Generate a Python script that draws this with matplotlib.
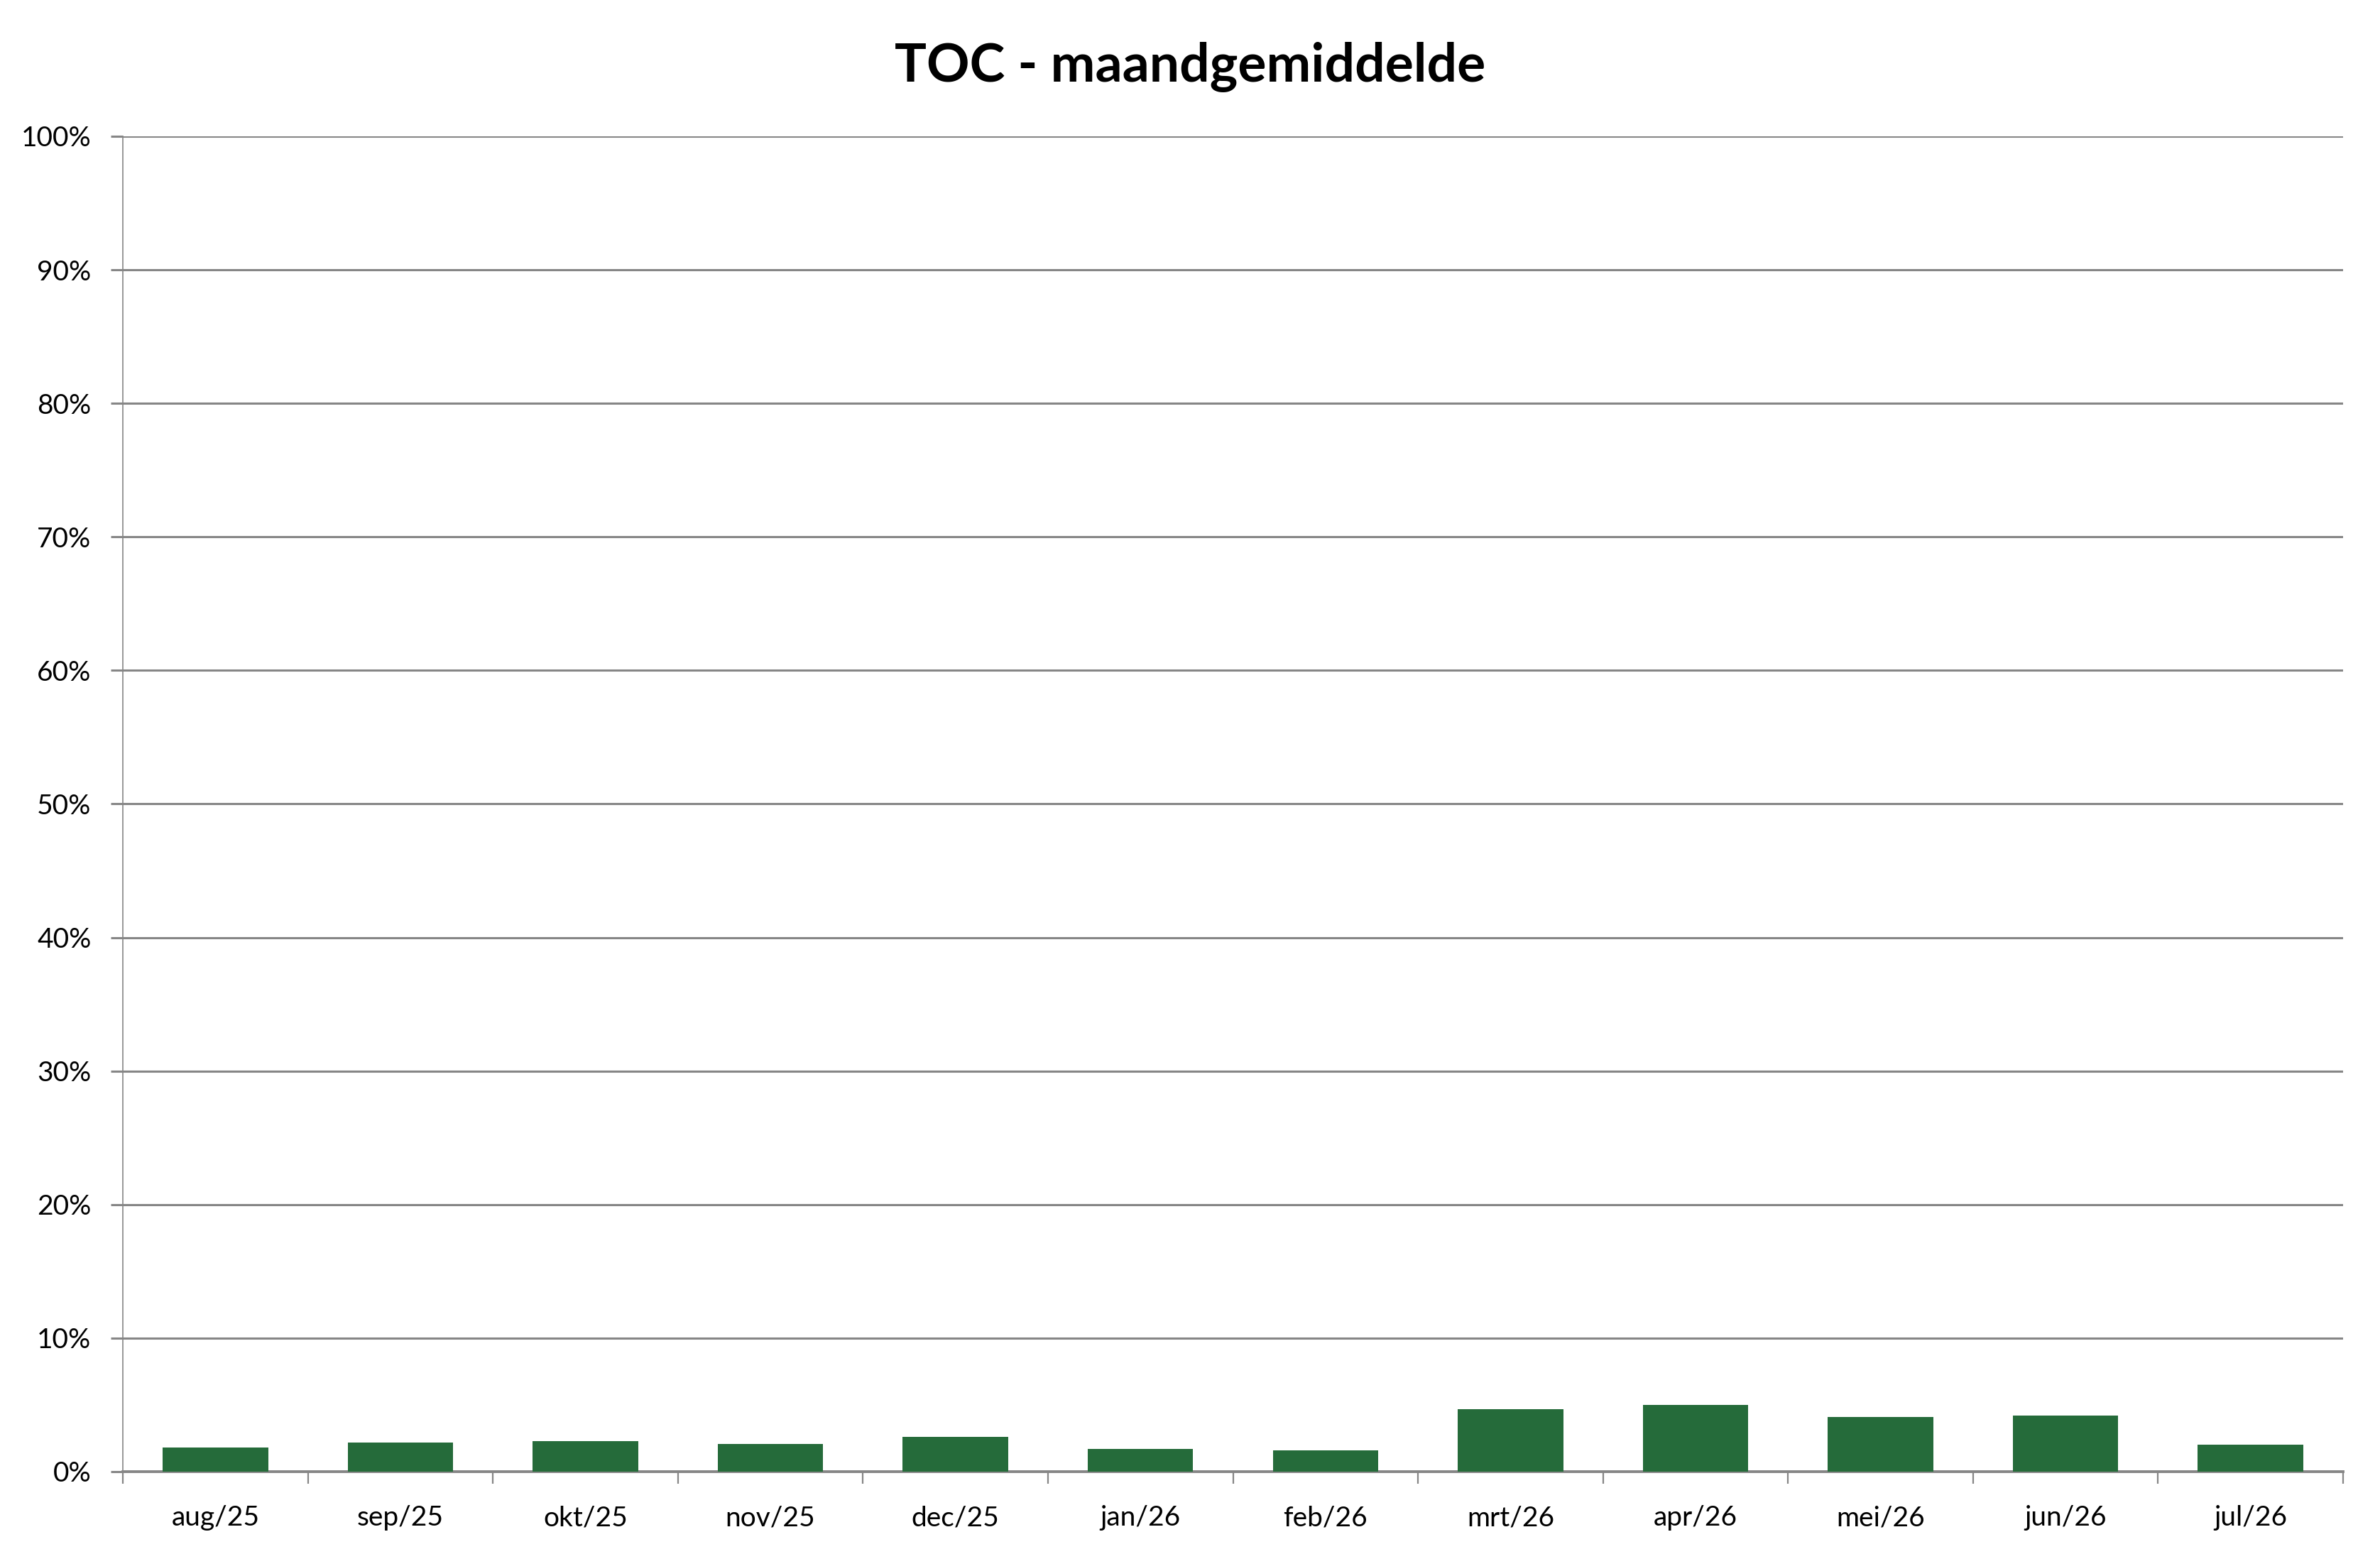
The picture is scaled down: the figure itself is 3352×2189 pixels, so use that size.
import matplotlib
matplotlib.use("Agg")
import matplotlib.pyplot as plt
import numpy as np
from matplotlib.ticker import FixedLocator, PercentFormatter

plt.rcParams['font.family'] = ['Lato', 'DejaVu Sans']

maanden = ["aug/25", "sep/25", "okt/25", "nov/25", "dec/25", "jan/26",
           "feb/26", "mrt/26", "apr/26", "mei/26", "jun/26", "jul/26"]
toc = [1.80, 2.17, 2.28, 2.06, 2.59, 1.69, 1.59, 4.66, 4.97, 4.07, 4.18, 2.01]

grijs = "#868686"

fig = plt.figure(figsize=(16.76, 10.945), dpi=200)
ax = fig.add_axes([0.0516, 0.0530, 0.9329, 0.8593])

x = np.arange(len(maanden))
ax.bar(x, toc, width=0.57, color="#256b3a", zorder=3)

ax.set_xlim(-0.5, len(maanden) - 0.5)
ax.set_ylim(0, 100)
ax.set_yticks(np.arange(0, 101, 10))
ax.yaxis.set_major_formatter(PercentFormatter(decimals=0))
ax.grid(axis="y", color=grijs, linewidth=1.1, zorder=0)

# ticks op de grenzen, labels in het midden
ax.xaxis.set_major_locator(FixedLocator(np.arange(-0.5, len(maanden), 1)))
ax.xaxis.set_major_formatter(plt.NullFormatter())
ax.xaxis.set_minor_locator(FixedLocator(x))
ax.set_xticklabels(maanden, minor=True)
ax.tick_params(axis="x", which="major", length=6, color=grijs, width=0.8, direction="out")
ax.tick_params(axis="x", which="minor", length=0, pad=17, labelsize=14)
ax.tick_params(axis="y", length=6, color=grijs, width=1.1, pad=10, labelsize=14)

for kant in ["top", "right"]:
    ax.spines[kant].set_visible(False)
ax.spines["left"].set_color(grijs)
ax.spines["left"].set_linewidth(0.6)
ax.spines["bottom"].set_color(grijs)
ax.spines["bottom"].set_linewidth(1.4)

fig.text(0.5, 0.957, "TOC - maandgemiddelde", ha="center", va="center",
         fontsize=27, fontweight="bold")

fig.savefig("out.png", dpi=200)
